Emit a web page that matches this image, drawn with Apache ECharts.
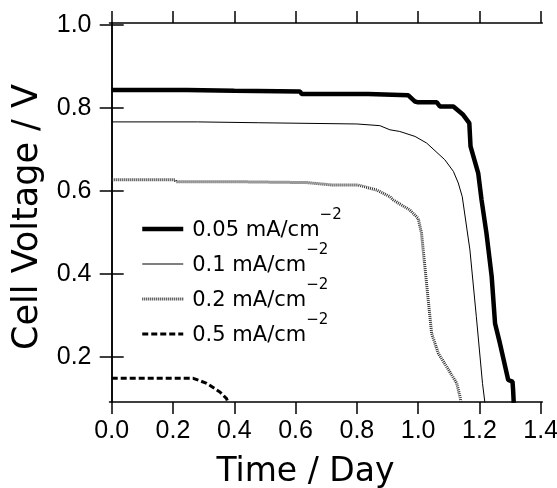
<!DOCTYPE html>
<html>
<head>
<meta charset="utf-8">
<script src="https://cdn.jsdelivr.net/npm/echarts@6/dist/echarts.min.js"></script>
<style>
  html, body { margin: 0; padding: 0; background: #fff; }
  #chart { width: 557px; height: 488px; }
</style>
</head>
<body>
<div id="chart"></div>
<script>
// legend labels
const seriesNames = ['0.05 mA/cm', '0.1 mA/cm', '0.2 mA/cm', '0.5 mA/cm'];

// 0.05 mA/cm-2
const t005 = [0, 0.245, 0.25, 0.40, 0.405, 0.615, 0.62, 0.837, 0.84, 0.968, 0.99, 1.0, 1.061, 1.071, 1.115, 1.147, 1.167, 1.171, 1.196, 1.207, 1.223, 1.240, 1.251, 1.267, 1.294, 1.308, 1.310, 1.312];
const v005 = [0.843, 0.843, 0.841, 0.841, 0.839, 0.839, 0.833, 0.833, 0.830, 0.830, 0.815, 0.813, 0.813, 0.803, 0.803, 0.783, 0.763, 0.707, 0.643, 0.578, 0.498, 0.394, 0.281, 0.233, 0.145, 0.141, 0.12, 0.09];

// 0.1 mA/cm-2
const t01 = [0, 0.28, 0.285, 0.48, 0.485, 0.80, 0.875, 0.908, 0.94, 0.99, 1.028, 1.087, 1.115, 1.131, 1.144, 1.169, 1.19, 1.21, 1.218];
const v01 = [0.766, 0.766, 0.764, 0.764, 0.762, 0.761, 0.757, 0.747, 0.743, 0.731, 0.715, 0.675, 0.647, 0.619, 0.586, 0.458, 0.297, 0.137, 0.09];

// 0.2 mA/cm-2
const t02 = [0, 0.206, 0.21, 0.41, 0.415, 0.636, 0.64, 0.723, 0.805, 0.865, 0.908, 0.919, 0.973, 1.0, 1.011, 1.022, 1.033, 1.044, 1.066, 1.093, 1.126, 1.137, 1.14];
const v02 = [0.627, 0.627, 0.622, 0.622, 0.620, 0.620, 0.617, 0.614, 0.614, 0.602, 0.586, 0.578, 0.554, 0.534, 0.498, 0.418, 0.337, 0.257, 0.209, 0.177, 0.137, 0.104, 0.09];

// 0.5 mA/cm-2
const t05 = [0, 0.266, 0.31, 0.353, 0.375, 0.38];
const v05 = [0.149, 0.149, 0.137, 0.116, 0.100, 0.09];

const xTicks = [0, 0.2, 0.4, 0.6, 0.8, 1.0, 1.2, 1.4];
const yTicks = [0.2, 0.4, 0.6, 0.8, 1.0];

function pairs(t, v) {
  return t.map((x, i) => [x, v[i]]);
}

const chart = echarts.init(document.getElementById('chart'));

const tickFont = {
  color: '#000',
  fontFamily: '"Liberation Sans", Arial, sans-serif',
  fontSize: 25
};

const lineAxis = { show: true, lineStyle: { color: '#000', width: 1.5 } };
const tickStyle = { show: true, inside: false, length: 12, lineStyle: { color: '#000', width: 1.5 } };

chart.setOption({
  animation: false,
  backgroundColor: '#fff',
  grid: { left: 109.5, right: 14.7, top: 23, bottom: 86, containLabel: false, outerBoundsMode: 'none' },
  legend: {
    orient: 'vertical',
    left: 135,
    top: 203,
    itemGap: -3,
    itemWidth: 41,
    itemHeight: 14,
    itemStyle: { opacity: 0 },
    data: [
      { name: seriesNames[0], lineStyle: { width: 4.5 } },
      { name: seriesNames[1], lineStyle: { width: 1 } },
      { name: seriesNames[2], lineStyle: { width: 3 } },
      { name: seriesNames[3], lineStyle: { width: 3 } }
    ],
    formatter: name => '{a|' + name + '}{b|\u22122}',
    textStyle: {
      color: '#000',
      lineHeight: 34,
      rich: {
        a: { fontFamily: 'DejaVu Sans', fontSize: 21, height: 30, lineHeight: 34, verticalAlign: 'bottom', padding: [0, 0, 0, 4], color: '#000' },
        b: { fontFamily: 'DejaVu Sans', fontSize: 15, height: 7, lineHeight: 34, verticalAlign: 'top', color: '#000' }
      }
    }
  },
  xAxis: [
    {
      type: 'value',
      position: 'bottom',
      min: -0.0072,
      max: 1.4052,
      axisLine: lineAxis,
      axisTick: Object.assign({ customValues: xTicks }, tickStyle),
      axisLabel: Object.assign({ customValues: xTicks, margin: 17, formatter: v => v.toFixed(1) }, tickFont),
      splitLine: { show: false },
      name: 'Time / Day',
      nameLocation: 'middle',
      nameGap: 54,
      nameTextStyle: { color: '#000', fontFamily: 'DejaVu Sans', fontSize: 33, padding: [0, 41, 0, 0] }
    },
    {
      type: 'value',
      position: 'top',
      min: -0.0072,
      max: 1.4052,
      axisLine: lineAxis,
      axisTick: Object.assign({ customValues: xTicks }, tickStyle),
      axisLabel: { show: false },
      splitLine: { show: false }
    }
  ],
  yAxis: [
    {
      type: 'value',
      position: 'left',
      min: 0.092,
      max: 1.004,
      axisLine: lineAxis,
      axisTick: Object.assign({ customValues: yTicks }, tickStyle),
      axisLabel: Object.assign({ customValues: yTicks, margin: 18, formatter: v => v.toFixed(1) }, tickFont),
      splitLine: { show: false },
      name: 'Cell Voltage / V',
      nameLocation: 'middle',
      nameGap: 61,
      nameTextStyle: { color: '#000', fontFamily: 'DejaVu Sans', fontSize: 35, padding: [0, 9, 0, 0] }
    },
    {
      type: 'value',
      position: 'right',
      min: 0.092,
      max: 1.004,
      axisLine: lineAxis,
      axisTick: Object.assign({ customValues: yTicks }, tickStyle),
      axisLabel: { show: false },
      splitLine: { show: false }
    }
  ],
  series: [
    {
      name: seriesNames[0],
      type: 'line',
      data: pairs(t005, v005),
      symbol: 'none',
      lineStyle: { color: '#000', width: 4.5 },
      itemStyle: { color: '#000' }
    },
    {
      name: seriesNames[1],
      type: 'line',
      data: pairs(t01, v01),
      symbol: 'none',
      lineStyle: { color: '#000', width: 1 },
      itemStyle: { color: '#000' }
    },
    {
      name: seriesNames[2],
      type: 'line',
      data: pairs(t02, v02),
      symbol: 'none',
      lineStyle: { color: '#333', width: 3, type: [1, 1] },
      itemStyle: { color: '#333' }
    },
    {
      name: seriesNames[3],
      type: 'line',
      data: pairs(t05, v05),
      symbol: 'none',
      lineStyle: { color: '#000', width: 3, type: [6, 3] },
      itemStyle: { color: '#000' }
    }
  ]
});
</script>
</body>
</html>
